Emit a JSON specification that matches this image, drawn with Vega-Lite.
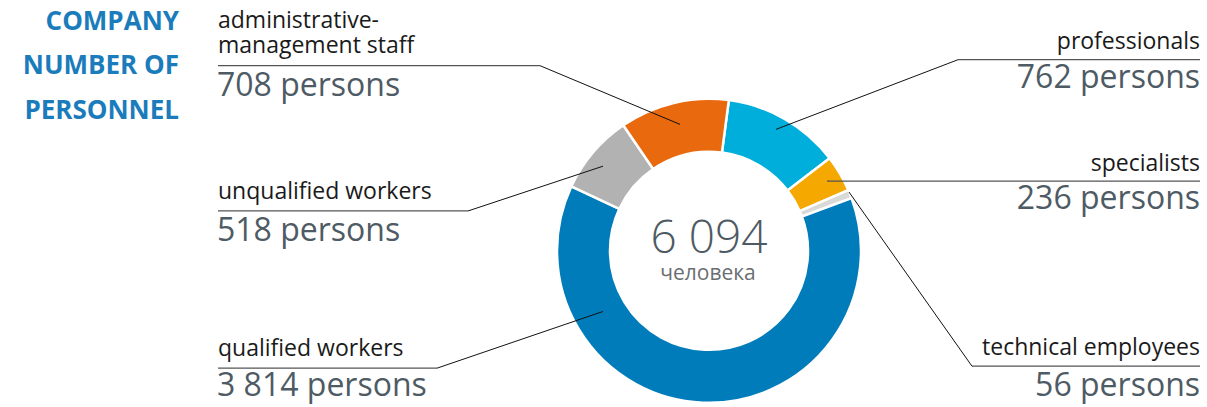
{
  "$schema": "https://vega.github.io/schema/vega-lite/v6.json",
  "width": 1207,
  "height": 407,
  "padding": 0,
  "autosize": {"type": "fit", "contains": "padding"},
  "background": "white",
  "config": {"view": {"stroke": null}, "font": "Open Sans"},
  "data": {
    "values": [
      {"category": "professionals", "name": "professionals", "persons": 762, "ord": 1},
      {"category": "specialists", "name": "specialists", "persons": 236, "ord": 2},
      {"category": "technical employees", "name": "technical employees", "persons": 56, "ord": 3},
      {"category": "qualified workers", "name": "qualified workers", "persons": 3814, "ord": 4},
      {"category": "unqualified workers", "name": "unqualified workers", "persons": 518, "ord": 5},
      {"category": "administrative-management staff", "name": "administrative-\nmanagement staff", "persons": 708, "ord": 6}
    ]
  },
  "transform": [
    {"calculate": "replace(format(datum.persons, ',d'), ',', ' ') + ' persons'", "as": "label"}
  ],
  "encoding": {
    "x": {"type": "quantitative", "scale": {"domain": [0, 1207], "nice": false, "zero": false}, "axis": null},
    "y": {"type": "quantitative", "scale": {"domain": [0, 407], "nice": false, "zero": false, "reverse": true}, "axis": null}
  },
  "layer": [
    {
      "mark": {"type": "arc", "innerRadius": 99, "outerRadius": 152, "stroke": "white", "strokeWidth": 2.5},
      "encoding": {
        "x": {"datum": 709},
        "y": {"datum": 252},
        "theta": {"field": "persons", "type": "quantitative", "stack": true, "scale": {"range": [0.131, 6.414]}},
        "order": {"field": "ord", "type": "quantitative"},
        "color": {
          "field": "category",
          "type": "nominal",
          "legend": null,
          "scale": {
            "domain": ["professionals", "specialists", "technical employees", "qualified workers", "unqualified workers", "administrative-management staff"],
            "range": ["#00AEDB", "#F5A800", "#D9D9D7", "#007CBA", "#B1B2B1", "#E96A0E"]
          }
        }
      }
    },
    {
      "transform": [{"aggregate": [{"op": "sum", "field": "persons", "as": "total"}]}, {"calculate": "replace(format(datum.total, ',d'), ',', ' ')", "as": "totalLabel"}],
      "layer": [
        {
          "mark": {"type": "text", "fontSize": 46, "fontWeight": 300, "color": "#4E5A63", "align": "center", "baseline": "alphabetic"},
          "encoding": {"x": {"datum": 709}, "y": {"datum": 254}, "text": {"field": "totalLabel"}}
        },
        {
          "mark": {"type": "text", "fontSize": 21, "color": "#6B6E70", "align": "center", "baseline": "alphabetic", "text": "человека"},
          "encoding": {"x": {"datum": 708}, "y": {"datum": 281}}
        }
      ]
    },
    {
      "transform": [{"filter": "datum.ord == 1"}],
      "mark": {"type": "text", "fontSize": 26, "fontWeight": "bold", "color": "#1B7CBC", "align": "right", "baseline": "alphabetic", "lineBreak": "\n", "lineHeight": 44.5, "text": "COMPANY\nNUMBER OF\nPERSONNEL"},
      "encoding": {"x": {"datum": 179}, "y": {"datum": 30}}
    },
    {
      "transform": [{"filter": "datum.ord == 6"}],
      "layer": [
        {"mark": {"type": "text", "fontSize": 23, "color": "#1A1A1A", "align": "left", "baseline": "alphabetic", "lineBreak": "\n", "lineHeight": 25}, "encoding": {"x": {"datum": 218}, "y": {"datum": 28}, "text": {"field": "name"}}},
        {"mark": {"type": "text", "fontSize": 32, "color": "#4E5B65", "align": "left", "baseline": "alphabetic"}, "encoding": {"x": {"datum": 217}, "y": {"datum": 96}, "text": {"field": "label"}}},
        {"mark": {"type": "rule", "color": "#555", "strokeWidth": 1.3}, "encoding": {"x": {"datum": 218}, "x2": {"datum": 540}, "y": {"datum": 66}, "y2": {"datum": 66}}},
        {"mark": {"type": "rule", "color": "#111", "strokeWidth": 1}, "encoding": {"x": {"datum": 540}, "x2": {"datum": 680}, "y": {"datum": 66}, "y2": {"datum": 125}}}
      ]
    },
    {
      "transform": [{"filter": "datum.ord == 5"}],
      "layer": [
        {"mark": {"type": "text", "fontSize": 23, "color": "#1A1A1A", "align": "left", "baseline": "alphabetic"}, "encoding": {"x": {"datum": 218}, "y": {"datum": 200}, "text": {"field": "name"}}},
        {"mark": {"type": "text", "fontSize": 32, "color": "#4E5B65", "align": "left", "baseline": "alphabetic"}, "encoding": {"x": {"datum": 217}, "y": {"datum": 242}, "text": {"field": "label"}}},
        {"mark": {"type": "rule", "color": "#555", "strokeWidth": 1.3}, "encoding": {"x": {"datum": 218}, "x2": {"datum": 468}, "y": {"datum": 212}, "y2": {"datum": 212}}},
        {"mark": {"type": "rule", "color": "#111", "strokeWidth": 1}, "encoding": {"x": {"datum": 468}, "x2": {"datum": 603}, "y": {"datum": 212}, "y2": {"datum": 167}}}
      ]
    },
    {
      "transform": [{"filter": "datum.ord == 4"}],
      "layer": [
        {"mark": {"type": "text", "fontSize": 23, "color": "#1A1A1A", "align": "left", "baseline": "alphabetic"}, "encoding": {"x": {"datum": 218}, "y": {"datum": 358}, "text": {"field": "name"}}},
        {"mark": {"type": "text", "fontSize": 32, "color": "#4E5B65", "align": "left", "baseline": "alphabetic"}, "encoding": {"x": {"datum": 217}, "y": {"datum": 398}, "text": {"field": "label"}}},
        {"mark": {"type": "rule", "color": "#555", "strokeWidth": 1.3}, "encoding": {"x": {"datum": 218}, "x2": {"datum": 437}, "y": {"datum": 370}, "y2": {"datum": 370}}},
        {"mark": {"type": "rule", "color": "#111", "strokeWidth": 1}, "encoding": {"x": {"datum": 437}, "x2": {"datum": 603}, "y": {"datum": 370}, "y2": {"datum": 313}}}
      ]
    },
    {
      "transform": [{"filter": "datum.ord == 1"}],
      "layer": [
        {"mark": {"type": "text", "fontSize": 23, "color": "#1A1A1A", "align": "right", "baseline": "alphabetic"}, "encoding": {"x": {"datum": 1200}, "y": {"datum": 49}, "text": {"field": "name"}}},
        {"mark": {"type": "text", "fontSize": 32, "color": "#4E5B65", "align": "right", "baseline": "alphabetic"}, "encoding": {"x": {"datum": 1200}, "y": {"datum": 88}, "text": {"field": "label"}}},
        {"mark": {"type": "rule", "color": "#555", "strokeWidth": 1.3}, "encoding": {"x": {"datum": 958}, "x2": {"datum": 1200}, "y": {"datum": 60}, "y2": {"datum": 60}}},
        {"mark": {"type": "rule", "color": "#111", "strokeWidth": 1}, "encoding": {"x": {"datum": 958}, "x2": {"datum": 776}, "y": {"datum": 60}, "y2": {"datum": 130}}}
      ]
    },
    {
      "transform": [{"filter": "datum.ord == 2"}],
      "layer": [
        {"mark": {"type": "text", "fontSize": 23, "color": "#1A1A1A", "align": "right", "baseline": "alphabetic"}, "encoding": {"x": {"datum": 1200}, "y": {"datum": 172}, "text": {"field": "name"}}},
        {"mark": {"type": "text", "fontSize": 32, "color": "#4E5B65", "align": "right", "baseline": "alphabetic"}, "encoding": {"x": {"datum": 1200}, "y": {"datum": 210}, "text": {"field": "label"}}},
        {"mark": {"type": "rule", "color": "#555", "strokeWidth": 1.3}, "encoding": {"x": {"datum": 827}, "x2": {"datum": 1200}, "y": {"datum": 182}, "y2": {"datum": 182}}}
      ]
    },
    {
      "transform": [{"filter": "datum.ord == 3"}],
      "layer": [
        {"mark": {"type": "text", "fontSize": 23, "color": "#1A1A1A", "align": "right", "baseline": "alphabetic"}, "encoding": {"x": {"datum": 1200}, "y": {"datum": 357}, "text": {"field": "name"}}},
        {"mark": {"type": "text", "fontSize": 32, "color": "#4E5B65", "align": "right", "baseline": "alphabetic"}, "encoding": {"x": {"datum": 1200}, "y": {"datum": 398}, "text": {"field": "label"}}},
        {"mark": {"type": "rule", "color": "#555", "strokeWidth": 1.3}, "encoding": {"x": {"datum": 972}, "x2": {"datum": 1200}, "y": {"datum": 368}, "y2": {"datum": 368}}},
        {"mark": {"type": "rule", "color": "#111", "strokeWidth": 1}, "encoding": {"x": {"datum": 849}, "x2": {"datum": 972}, "y": {"datum": 193}, "y2": {"datum": 368}}}
      ]
    }
  ]
}
